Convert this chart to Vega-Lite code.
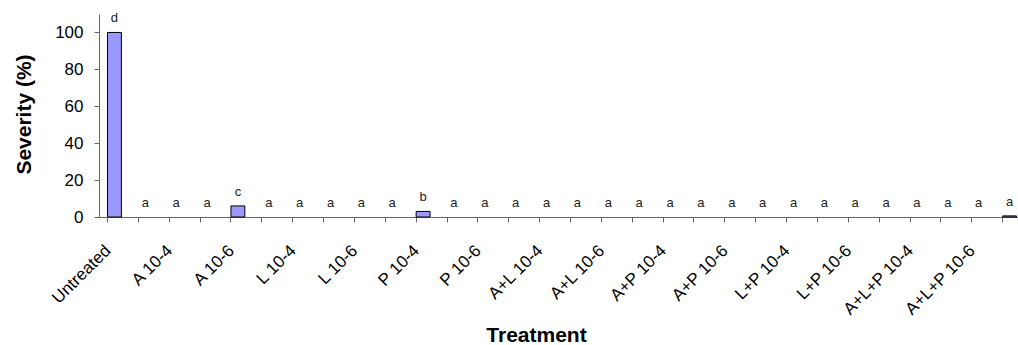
{
  "$schema": "https://vega.github.io/schema/vega-lite/v6.json",
  "width": 919,
  "height": 203,
  "autosize": "none",
  "padding": {"left": 99, "top": 14, "right": 0, "bottom": 128},
  "background": "white",
  "config": {"view": {"stroke": null}, "font": "Liberation Sans"},
  "data": {"values": [
    {"slot": 0, "treatment": "Untreated", "severity": 100, "letter": "d"},
    {"slot": 1, "treatment": "", "severity": 0, "letter": "a"},
    {"slot": 2, "treatment": "A 10-4", "severity": 0, "letter": "a"},
    {"slot": 3, "treatment": "", "severity": 0, "letter": "a"},
    {"slot": 4, "treatment": "A 10-6", "severity": 6, "letter": "c"},
    {"slot": 5, "treatment": "", "severity": 0, "letter": "a"},
    {"slot": 6, "treatment": "L 10-4", "severity": 0, "letter": "a"},
    {"slot": 7, "treatment": "", "severity": 0, "letter": "a"},
    {"slot": 8, "treatment": "L 10-6", "severity": 0, "letter": "a"},
    {"slot": 9, "treatment": "", "severity": 0, "letter": "a"},
    {"slot": 10, "treatment": "P 10-4", "severity": 3, "letter": "b"},
    {"slot": 11, "treatment": "", "severity": 0, "letter": "a"},
    {"slot": 12, "treatment": "P 10-6", "severity": 0, "letter": "a"},
    {"slot": 13, "treatment": "", "severity": 0, "letter": "a"},
    {"slot": 14, "treatment": "A+L 10-4", "severity": 0, "letter": "a"},
    {"slot": 15, "treatment": "", "severity": 0, "letter": "a"},
    {"slot": 16, "treatment": "A+L 10-6", "severity": 0, "letter": "a"},
    {"slot": 17, "treatment": "", "severity": 0, "letter": "a"},
    {"slot": 18, "treatment": "A+P 10-4", "severity": 0, "letter": "a"},
    {"slot": 19, "treatment": "", "severity": 0, "letter": "a"},
    {"slot": 20, "treatment": "A+P 10-6", "severity": 0, "letter": "a"},
    {"slot": 21, "treatment": "", "severity": 0, "letter": "a"},
    {"slot": 22, "treatment": "L+P 10-4", "severity": 0, "letter": "a"},
    {"slot": 23, "treatment": "", "severity": 0, "letter": "a"},
    {"slot": 24, "treatment": "L+P 10-6", "severity": 0, "letter": "a"},
    {"slot": 25, "treatment": "", "severity": 0, "letter": "a"},
    {"slot": 26, "treatment": "A+L+P 10-4", "severity": 0, "letter": "a"},
    {"slot": 27, "treatment": "", "severity": 0, "letter": "a"},
    {"slot": 28, "treatment": "A+L+P 10-6", "severity": 0, "letter": "a"},
    {"slot": 29, "treatment": "", "severity": 0.6, "letter": "a"}
  ]},
  "layer": [
    {
      "mark": {"type": "bar", "fill": "#9999FF", "stroke": "#000000"},
      "encoding": {
        "x": {
          "field": "slot", "type": "ordinal",
          "scale": {"range": [0, 926], "paddingInner": 0.55, "paddingOuter": 0.275},
          "axis": {
            "bandPosition": 0,
            "labelOffset": -12,
            "labelAngle": -45,
            "labelExpr": "['Untreated','','A 10-4','','A 10-6','','L 10-4','','L 10-6','','P 10-4','','P 10-6','','A+L 10-4','','A+L 10-6','','A+P 10-4','','A+P 10-6','','L+P 10-4','','L+P 10-6','','A+L+P 10-4','','A+L+P 10-6',''][datum.value]",
            "labelFontSize": 17,
            "labelColor": "#000000",
            "labelPadding": 20,
            "labelOverlap": false,
            "labelBound": false,
            "tickSize": 5,
            "tickColor": "#666666",
            "domainColor": "#666666",
            "grid": false,
            "title": "Treatment",
            "titleFontSize": 21,
            "titleFontWeight": "bold",
            "titleColor": "#000000",
            "titleX": 437,
            "titleY": 118,
            "titleBaseline": "middle"
          }
        },
        "y": {
          "field": "severity", "type": "quantitative",
          "scale": {"domain": [0, 110], "nice": false},
          "axis": {
            "values": [0, 20, 40, 60, 80, 100],
            "labelFontSize": 17,
            "labelColor": "#000000",
            "labelPadding": 11,
            "tickSize": 5,
            "tickColor": "#666666",
            "domainColor": "#666666",
            "grid": false,
            "title": "Severity (%)",
            "titleFontSize": 21,
            "titleFontWeight": "bold",
            "titleColor": "#000000",
            "titleX": -75,
            "titleY": 100,
            "titleBaseline": "middle"
          }
        },
        "strokeWidth": {"condition": {"test": "datum.severity > 0", "value": 1}, "value": 0}
      }
    },
    {
      "mark": {"type": "text", "baseline": "alphabetic", "dy": -10, "fontSize": 13, "color": "#222222"},
      "encoding": {
        "x": {"field": "slot", "type": "ordinal"},
        "y": {"field": "severity", "type": "quantitative"},
        "text": {"field": "letter"}
      }
    }
  ]
}
